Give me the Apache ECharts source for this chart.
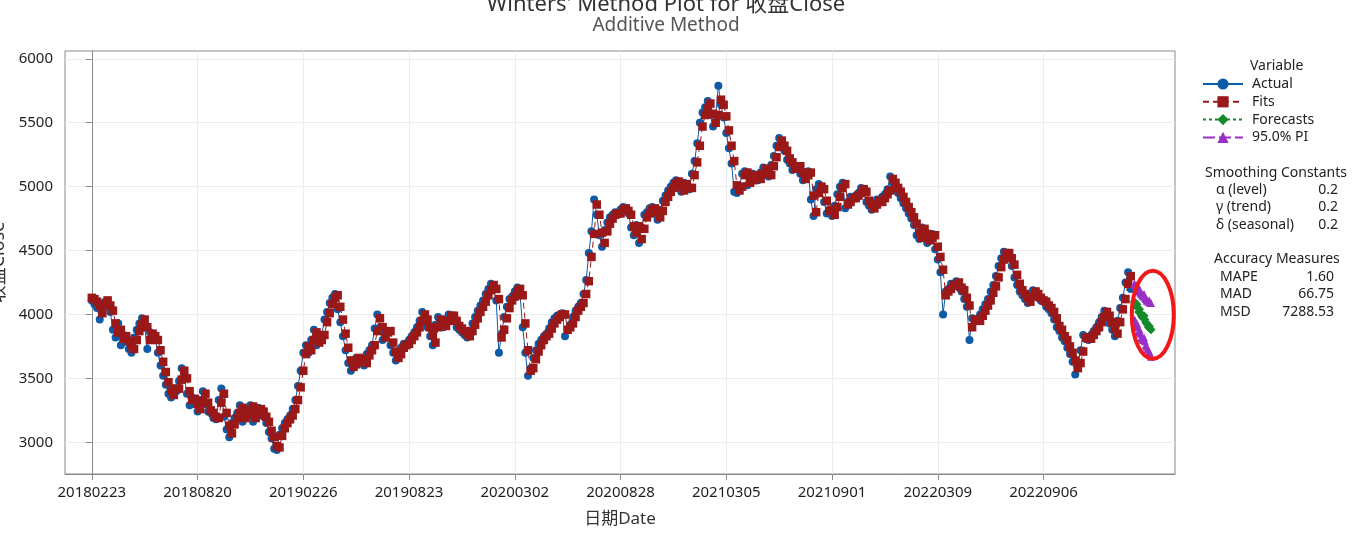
<!DOCTYPE html>
<html><head><meta charset="utf-8">
<script src="https://cdn.jsdelivr.net/npm/echarts@6/dist/echarts.min.js"></script>
<style>html,body{margin:0;padding:0;background:#fff}#c{width:1368px;height:544px}</style>
</head><body><div id="c"></div>
<script>
// ---- data ----
const tickLabels = ['20180223','20180820','20190226','20190823','20200302','20200828','20210305','20210901','20220309','20220906'];
const tickStep = 120;          // observations between date labels
const actualStep = 3;          // observations between plotted readings
const yTicks = [3000,3500,4000,4500,5000,5500,6000];
const actualValues = [
4110,4080,4050,3960,4060,4100,4070,4020,3880,3820,
3930,3760,3840,3790,3730,3700,3820,3880,3930,3970,
3900,3730,3860,3830,3810,3700,3600,3520,3450,3380,
3350,3420,3400,3480,3580,3510,3380,3290,3350,3300,
3240,3330,3400,3300,3240,3230,3190,3180,3330,3420,
3200,3100,3040,3150,3190,3230,3290,3160,3200,3260,
3290,3160,3220,3270,3240,3200,3150,3080,3030,2950,
2940,3060,3110,3150,3180,3210,3260,3330,3440,3560,
3700,3760,3700,3800,3880,3760,3800,3840,3960,4020,
4090,4130,4160,4040,3940,3830,3720,3620,3560,3600,
3660,3620,3650,3600,3690,3720,3760,3890,4000,3900,
3800,3860,3870,3760,3700,3640,3690,3740,3770,3760,
3800,3830,3860,3900,3950,4020,3960,3900,3830,3760,
3920,3980,3940,3900,3960,4000,3990,3950,3900,3880,
3860,3840,3820,3870,3930,3980,4030,4070,4110,4160,
4200,4240,4200,4110,3700,3850,3980,4060,4120,4140,
4180,4210,4150,3900,3700,3520,3580,3660,3720,3770,
3800,3830,3850,3890,3940,3970,3990,4000,4010,3830,
3880,3920,3980,4030,4060,4090,4160,4270,4480,4650,
4900,4780,4620,4530,4660,4720,4760,4780,4800,4790,
4820,4840,4810,4790,4680,4620,4700,4560,4680,4780,
4800,4830,4840,4790,4740,4820,4890,4930,4970,5000,
5030,5050,4990,4960,5030,4990,4980,5100,5200,5340,
5500,5580,5620,5670,5560,5470,5560,5790,5640,5540,
5420,5300,5180,4960,4950,5000,5100,5120,5010,5050,
5100,5080,5050,5110,5150,5100,5080,5170,5240,5320,
5380,5320,5280,5210,5180,5130,5150,5160,5100,5050,
5100,5120,4900,4770,4980,5020,4980,4880,4790,4820,
4770,4850,4940,5000,5030,4830,4880,4920,4910,4930,
4950,4990,4960,4880,4850,4820,4860,4900,4880,4920,
4940,4980,5080,5030,4980,4950,4910,4870,4830,4790,
4750,4700,4620,4590,4680,4620,4560,4600,4630,4510,
4430,4330,4000,4180,4200,4240,4230,4260,4210,4180,
4120,4060,3800,3970,3960,3950,4000,4040,4080,4120,
4180,4230,4300,4380,4440,4490,4480,4440,4380,4290,
4230,4180,4150,4120,4090,4150,4190,4160,4130,4110,
4100,4060,4040,4010,3960,3900,3870,3820,3790,3740,
3690,3630,3530,3610,3720,3840,3810,3800,3840,3870,
3900,3940,3980,4030,3990,3930,3880,3830,3950,4050,
4130,4250,4330,4200];
const fitsValues = [
4130,4120,4100,4070,4010,4080,4110,4070,4030,3930,
3860,3880,3810,3830,3790,3750,3730,3800,3870,3920,
3960,3900,3800,3850,3830,3800,3720,3630,3550,3470,
3400,3370,3420,3420,3490,3560,3500,3400,3330,3340,
3300,3260,3320,3380,3310,3250,3230,3200,3190,3310,
3380,3230,3130,3070,3140,3190,3230,3270,3190,3210,
3250,3280,3190,3220,3260,3240,3200,3160,3090,3040,
2970,2960,3050,3110,3150,3180,3210,3260,3330,3430,
3560,3690,3750,3720,3800,3860,3780,3800,3840,3940,
4010,4080,4130,4150,4060,3960,3850,3740,3640,3590,
3610,3660,3630,3650,3620,3680,3720,3760,3870,3970,
3900,3820,3860,3870,3780,3710,3660,3690,3740,3760,
3770,3800,3830,3860,3900,3950,4000,3960,3900,3840,
3780,3900,3960,3940,3910,3950,3990,3990,3950,3910,
3890,3870,3850,3830,3870,3920,3970,4020,4060,4100,
4150,4190,4230,4200,4120,3820,3880,3970,4050,4110,
4140,4180,4200,4150,3930,3720,3560,3580,3650,3710,
3760,3800,3830,3850,3890,3930,3960,3980,4000,4000,
3880,3900,3930,3980,4030,4060,4090,4160,4260,4450,
4630,4860,4780,4640,4560,4650,4710,4750,4780,4790,
4790,4820,4830,4810,4780,4690,4640,4690,4590,4670,
4760,4790,4820,4830,4800,4760,4810,4880,4920,4960,
4990,5020,5040,5000,4970,5020,4990,4990,5090,5190,
5320,5470,5560,5610,5650,5570,5500,5560,5680,5640,
5550,5440,5320,5200,5010,4970,5000,5090,5110,5030,
5050,5090,5080,5060,5100,5140,5110,5090,5160,5230,
5310,5360,5320,5280,5220,5190,5140,5150,5160,5110,
5060,5090,5110,4930,4800,4950,5000,4980,4890,4810,
4820,4780,4840,4920,4990,5020,4860,4880,4910,4910,
4930,4950,4980,4960,4890,4860,4830,4860,4890,4880,
4910,4940,4970,5060,5030,4990,4960,4920,4880,4840,
4800,4760,4710,4640,4600,4670,4630,4580,4600,4620,
4530,4450,4350,4150,4180,4200,4230,4230,4250,4210,
4190,4130,4070,3900,3960,3960,3950,3990,4030,4070,
4110,4170,4220,4290,4370,4430,4480,4480,4440,4390,
4310,4240,4190,4160,4130,4100,4140,4180,4160,4130,
4110,4100,4070,4050,4020,3970,3910,3880,3830,3800,
3750,3700,3640,3580,3620,3710,3820,3810,3810,3840,
3870,3900,3940,3980,4020,3990,3940,3890,3850,3940,
4040,4120,4240,4300];
const forecastStart = 1183;
const forecastValues = [4100,4090,4070,4080,4050,4020,4040,4010,3990,3980,3970,3990,3960,3940,3930,3920,3900,3910,3890,3880];
const piUpper = [4240,4230,4220,4230,4200,4180,4200,4170,4160,4150,4140,4160,4130,4120,4110,4110,4100,4110,4090,4090];
const piLower = [3960,3950,3920,3930,3900,3860,3880,3850,3820,3810,3800,3820,3790,3760,3750,3730,3700,3710,3690,3670];
const smoothing = [['α (level)','0.2'],['γ (trend)','0.2'],['δ (seasonal)','0.2']];
const accuracy = [['MAPE','1.60'],['MAD','66.75'],['MSD','7288.53']];
const highlight = {idx:1204, value:3997}; // centre of the red ring around the forecasts

// ---- chart ----
const FONT = '"Noto Sans","Noto Sans CJK SC",sans-serif';
const C_ACT = '#0d5aa7', C_FIT = '#9a1818', C_FC = '#16892c', C_PI = '#9a2fc8';
const chart = echarts.init(document.getElementById('c'), null, {renderer:'canvas'});
const fcIdx = i => forecastStart + i;

const textEls = [];
const txt = (x,y,t,size,fill,align) => ({type:'text', x:x, y:y, style:{text:t, fontSize:size, fontFamily:FONT, fill:fill, align:align, verticalAlign:'middle'}});
textEls.push(txt(666,5,"Winters' Method Plot for 收盘Close",22,'#333','center'));
textEls.push(txt(666,26,'Additive Method',19,'#555','center'));
textEls.push(txt(1250,66,'Variable',14,'#222','left'));
textEls.push(txt(1205,173,'Smoothing Constants',14,'#222','left'));
smoothing.forEach((r,i)=>{
  textEls.push(txt(1216,190+i*17.5,r[0],14,'#222','left'));
  textEls.push(txt(1338,190+i*17.5,r[1],14,'#222','right'));
});
textEls.push(txt(1214,259,'Accuracy Measures',14,'#222','left'));
accuracy.forEach((r,i)=>{
  textEls.push(txt(1220,277+i*17.5,r[0],14,'#222','left'));
  textEls.push(txt(1334,277+i*17.5,r[1],14,'#222','right'));
});

const option = {
  animation:false,
  backgroundColor:'#fff',
  textStyle:{fontFamily:FONT},
  grid:{left:65, right:193, top:51, bottom:70, show:true, borderColor:'#8a8a8a', borderWidth:1, backgroundColor:'#fff', containLabel:false, outerBoundsMode:'none'},
  legend:{
    data:['Actual','Fits','Forecasts','95.0% PI'],
    orient:'vertical', left:1202, top:77, padding:0, itemWidth:40, itemHeight:14, itemGap:3.8,
    textStyle:{fontSize:14, color:'#222', fontFamily:FONT, lineHeight:14, padding:[0,0,0,4]},
    selectedMode:false
  },
  xAxis:{
    type:'value', min:-30.4, max:1229.2,
    axisLine:{show:true, lineStyle:{color:'#8a8a8a'}},
    axisTick:{show:true, length:6, lineStyle:{color:'#8a8a8a'}, customValues: tickLabels.map((_,i)=>i*tickStep)},
    axisLabel:{show:true, margin:11, fontSize:15, color:'#1e1e1e', fontFamily:FONT,
      customValues: tickLabels.map((_,i)=>i*tickStep),
      formatter: v => tickLabels[Math.round(v/tickStep)] || ''},
    splitLine:{show:true, lineStyle:{color:'#ececec', width:1}},
    name:'日期Date', nameLocation:'middle', nameGap:37,
    nameTextStyle:{fontSize:17, color:'#333', fontFamily:FONT}
  },
  yAxis:{
    type:'value', min:2752, max:6061,
    axisLine:{show:true, lineStyle:{color:'#8a8a8a'}},
    axisTick:{show:true, length:6, lineStyle:{color:'#8a8a8a'}, customValues:yTicks},
    axisLabel:{show:true, margin:12, fontSize:15, color:'#1e1e1e', fontFamily:FONT, customValues:yTicks,
      formatter: v => String(v)},
    splitLine:{show:true, lineStyle:{color:'#ececec', width:1}},
    name:'收盘Close', nameLocation:'middle', nameGap:54, nameRotate:90,
    nameTextStyle:{fontSize:18, color:'#333', fontFamily:FONT}
  },
  series:[
    {name:'Actual', type:'line', showAllSymbol:true, symbol:'circle', symbolSize:8,
     data: actualValues.map((v,i)=>[i*actualStep, v]),
     itemStyle:{color:C_ACT}, lineStyle:{color:C_ACT, width:1}, z:2},
    {name:'Fits', type:'line', showAllSymbol:true, symbol:'rect', symbolSize:8.5,
     data: fitsValues.map((v,i)=>[i*actualStep, v]),
     itemStyle:{color:C_FIT}, lineStyle:{color:C_FIT, width:1, type:[6,4]}, z:3},
    {name:'Forecasts', type:'line', showAllSymbol:true, symbol:'diamond', symbolSize:9,
     data: forecastValues.map((v,i)=>[fcIdx(i), v]),
     itemStyle:{color:C_FC}, lineStyle:{color:C_FC, width:1, type:[3,3]}, z:4},
    {name:'95.0% PI', type:'line', showAllSymbol:true, symbol:'triangle', symbolSize:8,
     data: piUpper.map((v,i)=>[fcIdx(i), v]),
     itemStyle:{color:C_PI}, lineStyle:{color:C_PI, width:1, type:[12,4]}, z:4},
    {name:'95.0% PI', type:'line', showAllSymbol:true, symbol:'triangle', symbolSize:8,
     data: piLower.map((v,i)=>[fcIdx(i), v]),
     itemStyle:{color:C_PI}, lineStyle:{color:C_PI, width:1, type:[12,4]}, z:4}
  ],
  graphic: textEls
};
chart.setOption(option);
const c = chart.convertToPixel({gridIndex:0}, [highlight.idx, highlight.value]);
chart.setOption({graphic: textEls.concat([{type:'ellipse', id:'ring', shape:{cx:c[0], cy:c[1], rx:21, ry:44}, style:{fill:'none', stroke:'#f01818', lineWidth:4}, z:100}])});
</script></body></html>
